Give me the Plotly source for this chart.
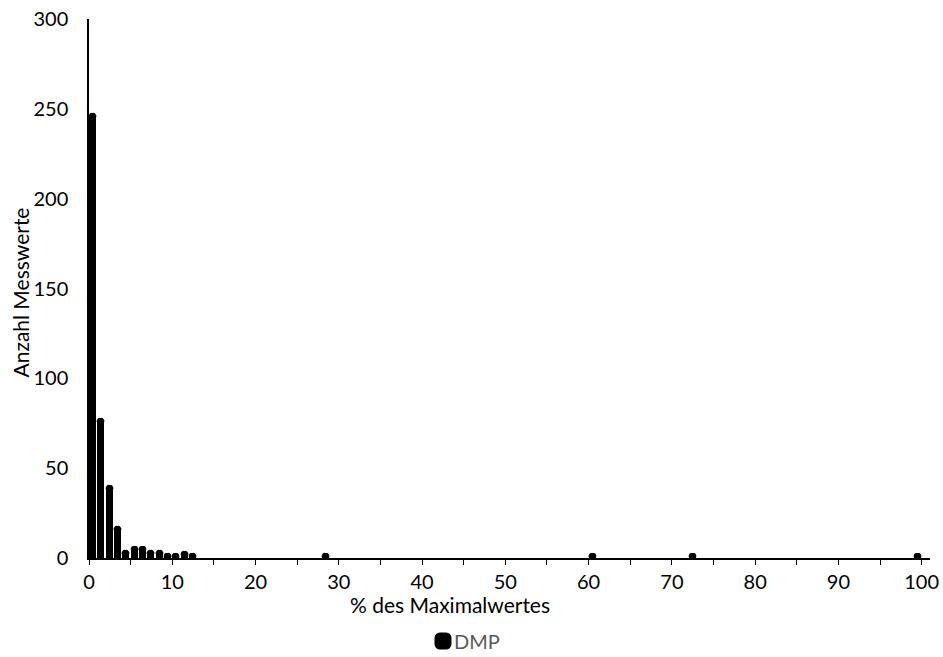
import plotly.graph_objects as go

# Histogram bins (centre of each 1 %-wide bin) and number of measurements
bin_centres = [0.5, 1.5, 2.5, 3.5, 4.5, 5.5, 6.5, 7.5, 8.5, 9.5, 10.5, 11.5, 12.5,
               28.5, 60.5, 72.5, 99.5]
counts = [246, 76, 39, 16, 3, 5, 5, 3, 3, 1, 1, 2, 1,
          1, 1, 1, 1]
series_name = "DMP"

x_ticks = [0, 10, 20, 30, 40, 50, 60, 70, 80, 90, 100]
y_ticks = [0, 50, 100, 150, 200, 250, 300]

FONT = "Lato, 'Open Sans', sans-serif"
TICK_SIZE = 20
TITLE_SIZE = 21

# plot area in pixels (used to place the free-standing titles and legend)
PLOT_LEFT, PLOT_W = 89, 841
PLOT_TOP, PLOT_H = 19, 539
PLOT_BOTTOM = PLOT_TOP + PLOT_H

fig = go.Figure()
fig.add_trace(go.Bar(
    x=bin_centres,
    y=counts,
    width=0.24,
    name=series_name,
    marker=dict(color="black", line=dict(color="black", width=5), cornerradius="50%"),
    showlegend=True,
))

fig.update_layout(
    width=943,
    height=657,
    margin=dict(l=PLOT_LEFT, r=943 - PLOT_LEFT - PLOT_W, t=PLOT_TOP,
                b=657 - PLOT_BOTTOM, autoexpand=False),
    paper_bgcolor="white",
    plot_bgcolor="white",
    font=dict(family=FONT, size=TICK_SIZE, color="black"),
    bargap=0,
    showlegend=True,
    legend=dict(
        orientation="h",
        x=(423 - PLOT_LEFT) / PLOT_W, xanchor="left",
        y=(PLOT_BOTTOM - 641) / PLOT_H, yanchor="middle",
        font=dict(family=FONT, size=TICK_SIZE, color="#595959"),
        itemwidth=30,
    ),
    xaxis=dict(
        range=[0, 101],
        tickvals=x_ticks,
        ticks="outside",
        ticklen=5,
        tickwidth=1.3,
        tickcolor="black",
        minor=dict(dtick=5, ticks="outside", ticklen=5, tickwidth=1.3, tickcolor="black"),
        showline=True,
        linecolor="black",
        linewidth=1.5,
        showgrid=False,
        zeroline=False,
        tickfont=dict(family=FONT, size=TICK_SIZE, color="black"),
    ),
    yaxis=dict(
        range=[0, 300],
        tickvals=y_ticks,
        ticks="",
        showline=True,
        linecolor="black",
        linewidth=1.5,
        showgrid=False,
        zeroline=False,
        ticklabelstandoff=15,
        tickfont=dict(family=FONT, size=TICK_SIZE, color="black"),
    ),
    annotations=[
        dict(text="% des Maximalwertes", xref="paper", yref="paper",
             x=(450 - PLOT_LEFT) / PLOT_W, y=(PLOT_BOTTOM - 604) / PLOT_H,
             xanchor="center", yanchor="middle",
             showarrow=False, font=dict(family=FONT, size=TITLE_SIZE, color="black")),
        dict(text="Anzahl Messwerte", xref="paper", yref="paper",
             x=(19.5 - PLOT_LEFT) / PLOT_W, y=(PLOT_BOTTOM - 293) / PLOT_H,
             xanchor="center", yanchor="middle",
             textangle=-90, showarrow=False,
             font=dict(family=FONT, size=TITLE_SIZE, color="black")),
    ],
)

# Rounded outline joins on the bars, outline allowed to spill past the axis,
# and the legend label pulled up against its swatch
post = """
function tidy(){
  document.querySelectorAll('.bars path').forEach(function(p){
    p.style.strokeLinejoin = 'round';
  });
  document.querySelectorAll('.barlayer').forEach(function(b){
    var g = b.closest('g.plot');
    if (g) { g.removeAttribute('clip-path'); }
  });
  document.querySelectorAll('.legendtext').forEach(function(t){
    t.setAttribute('x', 31);
  });
}
tidy();
var gd = document.querySelector('.plotly-graph-div');
if (gd && gd.on) { gd.on('plotly_afterplot', tidy); }
"""

fig.write_html("out.html", post_script=post)
